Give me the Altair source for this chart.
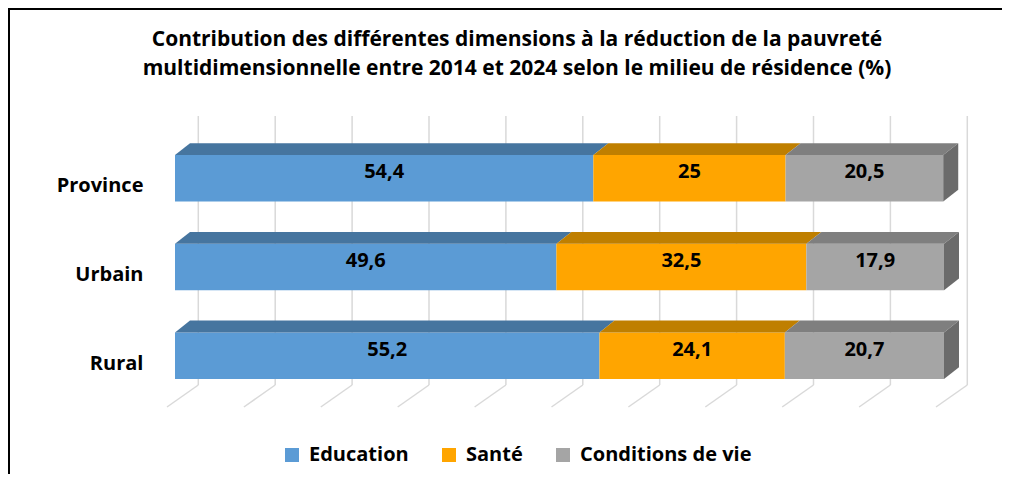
import altair as alt
import pandas as pd

# ---------------- data ----------------
categories = ["Province", "Urbain", "Rural"]
series = ["Education", "Santé", "Conditions de vie"]
education = [54.4, 49.6, 55.2]
sante = [25, 32.5, 24.1]
conditions = [20.5, 17.9, 20.7]
grid_ticks = [0, 10, 20, 30, 40, 50, 60, 70, 80, 90, 100]

title_lines = [
    "Contribution des différentes dimensions à la réduction de la pauvreté",
    "multidimensionnelle entre 2014 et 2024 selon le milieu de résidence (%)",
]

# ---------------- styles / layout ----------------
front_colors = ["#5B9BD5", "#FFA500", "#A5A5A5"]
top_colors = ["#46759F", "#BF7F00", "#7F7F7F"]
side_color = "#6B6B6B"
grid_color = "#D9D9D9"
FONT = "Open Sans"
TXT = 20

W, H = 994, 466
PXU = 7.69            # px per percent
X0 = 167              # px of 0 %
ROW0 = 170.3          # px of first row centre
ROWSTEP = 88.7        # px between rows
x_dom = [-X0 / PXU, (W - X0) / PXU]
y_dom = [-ROW0 / ROWSTEP, (H - ROW0) / ROWSTEP]


def yu(px):
    return px / ROWSTEP + y_dom[0]


HALF = 23.3 / ROWSTEP
DX = 15 / PXU
DY = 11.8 / ROWSTEP
WALL_DX = 23.3 / PXU
WALL_TOP = yu(108)
WALL_BOT = yu(377)
FLOOR_DX = -8 / PXU
FLOOR_Y = yu(399)

xs = alt.Scale(domain=x_dom, nice=False, zero=False)
ys = alt.Scale(domain=y_dom, nice=False, zero=False, reverse=True)

values = [education, sante, conditions]


def fmt(v):
    return f"{v:g}".replace(".", ",")


front_rows, top_rows, side_rows, label_rows, cat_rows = [], [], [], [], []
for i, cat in enumerate(categories):
    start = 0.0
    ytop = i - HALF
    ybot = i + HALF
    for j, s in enumerate(series):
        v = values[j][i]
        end = start + v
        seg = f"{cat}-{s}"
        front_rows.append(dict(cat=cat, series=s, x=start, x2=end, y=ytop, y2=ybot))
        label_rows.append(dict(xm=(start + end) / 2, y=i, label=fmt(v)))
        for (px, a, b) in [(start, ytop, ytop), (start + DX, ytop, ytop - DY),
                           (end, ytop, ytop - DY), (end + DX, ytop - DY, ytop - DY)]:
            top_rows.append(dict(seg=seg, x=px, ya=a, yb=b, tc=top_colors[j]))
        start = end
    E = start
    for (yy, a, b) in [(ytop - DY, E + DX, E + DX), (ytop, E, E + DX),
                       (ybot - DY, E, E + DX), (ybot, E, E)]:
        side_rows.append(dict(seg=cat, y=yy, xa=a, xb=b))
    cat_rows.append(dict(cat=cat, y=i, x=-4.1))

grid_rows = [dict(x=t + WALL_DX, y=WALL_TOP, y2=WALL_BOT) for t in grid_ticks]
floor_rows = [dict(x=t + FLOOR_DX, x2=t + WALL_DX, y=FLOOR_Y, y2=WALL_BOT) for t in grid_ticks]

front_df = pd.DataFrame(front_rows)
top_df = pd.DataFrame(top_rows)
side_df = pd.DataFrame(side_rows)
label_df = pd.DataFrame(label_rows)
cat_df = pd.DataFrame(cat_rows)
grid_df = pd.DataFrame(grid_rows)
floor_df = pd.DataFrame(floor_rows)

grid = alt.Chart(grid_df).mark_rule(color=grid_color, strokeWidth=1.5).encode(
    x=alt.X("x:Q", scale=xs, axis=None),
    y=alt.Y("y:Q", scale=ys, axis=None),
    y2="y2:Q",
)
floor = alt.Chart(floor_df).mark_rule(color=grid_color, strokeWidth=1.5).encode(
    x=alt.X("x:Q", scale=xs, axis=None),
    x2="x2:Q",
    y=alt.Y("y:Q", scale=ys, axis=None),
    y2="y2:Q",
)

front = alt.Chart(front_df).mark_rect().encode(
    x=alt.X("x:Q", scale=xs, axis=None),
    x2="x2:Q",
    y=alt.Y("y:Q", scale=ys, axis=None),
    y2="y2:Q",
    color=alt.Color(
        "series:N",
        scale=alt.Scale(domain=series, range=front_colors),
        legend=alt.Legend(
            title=None,
            orient="none",
            direction="horizontal",
            legendX=274,
            legendY=437,
            symbolType="square",
            symbolSize=196,
            symbolStrokeWidth=0,
            labelFont=FONT,
            labelFontSize=TXT,
            labelFontWeight="bold",
            labelColor="#000000",
            labelLimit=400,
            labelOffset=7,
            columnPadding=30,
            padding=0,
        ),
    ),
)

tops = alt.Chart(top_df).mark_area(opacity=1).encode(
    x=alt.X("x:Q", scale=xs, axis=None),
    y=alt.Y("ya:Q", scale=ys, axis=None, stack=None),
    y2="yb:Q",
    detail="seg:N",
    color=alt.Color("tc:N", scale=None),
)

side = alt.Chart(side_df).mark_area(orient="horizontal", color=side_color, opacity=1).encode(
    y=alt.Y("y:Q", scale=ys, axis=None),
    x=alt.X("xa:Q", scale=xs, axis=None, stack=None),
    x2="xb:Q",
    detail="seg:N",
)

labels = alt.Chart(label_df).mark_text(
    font=FONT, fontSize=TXT, fontWeight="bold", color="#000000", dy=-6
).encode(
    x=alt.X("xm:Q", scale=xs, axis=None),
    y=alt.Y("y:Q", scale=ys, axis=None),
    text="label:N",
)

cats = alt.Chart(cat_df).mark_text(
    font=FONT, fontSize=TXT, fontWeight="bold", color="#000000", align="right", dy=8
).encode(
    x=alt.X("x:Q", scale=xs, axis=None),
    y=alt.Y("y:Q", scale=ys, axis=None),
    text="cat:N",
)

border_top = alt.Chart(pd.DataFrame({"k": [0]})).mark_rule(color="#000000", strokeWidth=2).encode(
    x=alt.value(0), x2=alt.value(W), y=alt.value(1)
)
border_left = alt.Chart(pd.DataFrame({"k": [0]})).mark_rule(color="#000000", strokeWidth=2).encode(
    x=alt.value(1), y=alt.value(0), y2=alt.value(H)
)

chart = alt.layer(
    grid, floor, front, tops, side, labels, cats, border_top, border_left
).properties(
    width=W,
    height=H,
    autosize=alt.AutoSizeParams(type="none"),
    padding=0,
    title=alt.TitleParams(
        text=title_lines,
        font=FONT,
        fontSize=21,
        fontWeight="bold",
        color="#000000",
        anchor="middle",
        frame="group",
        orient="top",
        offset=-72,
        dx=12,
        lineHeight=29,
    ),
).configure_view(stroke=None)

chart.save("out.html", embed_options={"renderer": "svg", "actions": False})
